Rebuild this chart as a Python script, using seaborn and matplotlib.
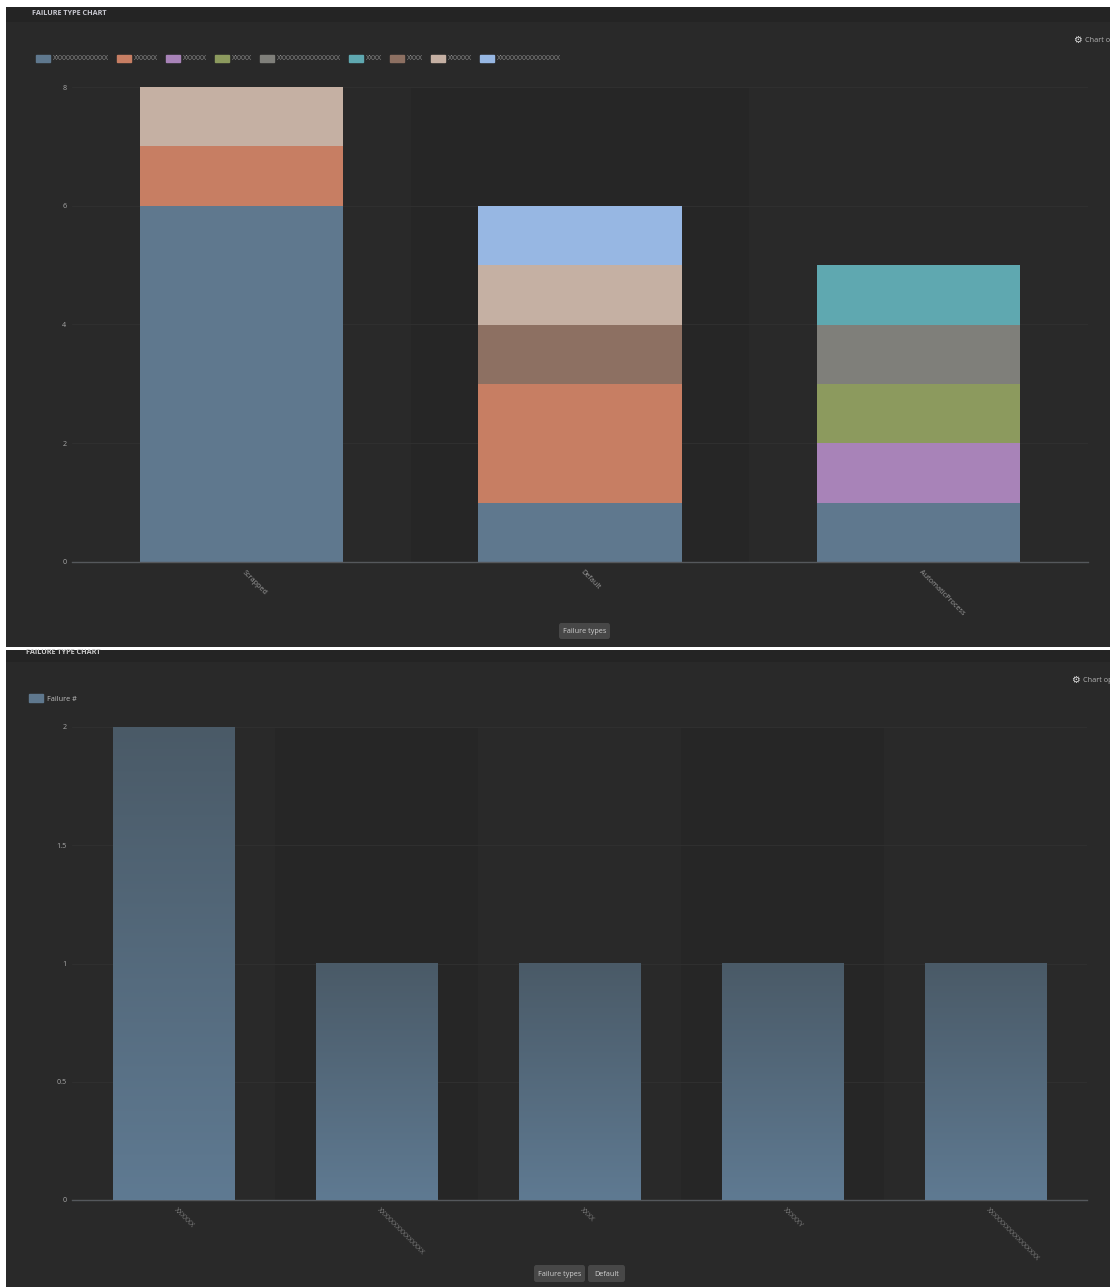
import numpy as np
import matplotlib
matplotlib.use("Agg")
import matplotlib.pyplot as plt
from matplotlib.patches import Rectangle, FancyBboxPatch, Patch
from matplotlib.transforms import ScaledTranslation
import matplotlib.colors as mcolors
import seaborn as sns

# ---- data ----
top_categories = ["Scrapped", "Default", "AutomaticProcess"]
top_series_names = ["XXXXXXXXXXXXXX", "XXXXXX", "XXXXXX", "XXXXX", "XXXXXXXXXXXXXXXX",
                    "XXXX", "XXXX", "XXXXXX", "XXXXXXXXXXXXXXXX"]
top_series_values = [
    [6, 1, 1],
    [1, 2, 0],
    [0, 0, 1],
    [0, 0, 1],
    [0, 0, 1],
    [0, 0, 1],
    [0, 1, 0],
    [1, 1, 0],
    [0, 1, 0],
]
top_colors = ["#5f788e", "#c77e63", "#a883b8", "#8c9a5e", "#7f7f7a",
              "#5fa8b0", "#8d7062", "#c5b0a3", "#97b7e3"]
top_yticks = [0, 2, 4, 6, 8]

bottom_categories = ["XXXXXX", "XXXXXXXXXXXXXXX", "XXXX", "XXXXXY", "XXXXXXXXXXXXXXXXX"]
bottom_values = [2, 1, 1, 1, 1]
bottom_yticks = [0, 0.5, 1, 1.5, 2]
bottom_yticklabels = ["0", "0.5", "1", "1.5", "2"]
bottom_legend = "Failure #"

W, H = 1110, 1287
PANEL = "#292929"
HEADER = "#242424"
BAND = "#262626"
GRID = "#303030"
AXIS = "#55585c"
TXT = "#a8a8a8"

sns.set_theme(style="dark")
plt.rcParams["font.family"] = ["Open Sans", "DejaVu Sans"]

fig = plt.figure(figsize=(W / 100, H / 100), dpi=100, facecolor="white")


def px_rect(x0, y0, x1, y1, color, z=-2):
    fig.add_artist(Rectangle((x0 / W, 1 - y1 / H), (x1 - x0) / W, (y1 - y0) / H,
                             transform=fig.transFigure, facecolor=color,
                             edgecolor="none", zorder=z))


def ftext(x, y, s, **kw):
    kw.setdefault("color", TXT)
    kw.setdefault("fontsize", 5.2)
    kw.setdefault("va", "center")
    fig.text(x / W, 1 - y / H, s, **kw)


def pill(x0, x1, y0, y1, s):
    fig.add_artist(FancyBboxPatch((x0 / W, 1 - y1 / H), (x1 - x0) / W, (y1 - y0) / H,
                                  boxstyle="round,pad=0,rounding_size=0.002",
                                  transform=fig.transFigure, facecolor="#474747",
                                  edgecolor="none"))
    ftext((x0 + x1) / 2, (y0 + y1) / 2 + 1, s, ha="center", color="#cfcfcf")


def swatch(c):
    return Patch(facecolor=c, edgecolor=c, linewidth=1.0, joinstyle="round")


def make_axes(x0, y0, x1, y1):
    ax = fig.add_axes([x0 / W, 1 - y1 / H, (x1 - x0) / W, (y1 - y0) / H])
    ax.set_facecolor(PANEL)
    return ax


def style_axes(ax, cats, yticks, yticklabels, ymax, rotation, xcolor):
    n = len(cats)
    ax.set_xlim(-0.5, n - 0.5)
    ax.set_ylim(0, ymax)
    for i in range(1, n, 2):
        ax.axvspan(i - 0.5, i + 0.5, facecolor=BAND, zorder=0, lw=0)
    ax.set_yticks(yticks)
    ax.set_yticklabels(yticklabels)
    ax.yaxis.grid(True, color=GRID, lw=0.7, zorder=0.5)
    ax.xaxis.grid(False)
    ax.set_axisbelow(True)
    for s in ["top", "right", "left"]:
        ax.spines[s].set_visible(False)
    ax.spines["bottom"].set_color(AXIS)
    ax.spines["bottom"].set_linewidth(1)
    ax.set_xlabel("")
    ax.set_ylabel("")
    ax.set_xticks(range(n))
    ax.set_xticklabels(cats, rotation=rotation, ha="left", va="top",
                       rotation_mode="anchor", fontsize=5.2, color=xcolor)
    ax.tick_params(axis="x", length=0, pad=5)
    ax.tick_params(axis="y", length=0, pad=4, labelsize=5.2, labelcolor=TXT)
    shift = ScaledTranslation(3 / 72, 0, fig.dpi_scale_trans)
    for lab in ax.get_xticklabels():
        lab.set_transform(lab.get_transform() + shift)


# ---- panels ----
px_rect(6, 7, W, 647, PANEL)
px_rect(6, 7, W, 22, HEADER, z=-1)
px_rect(6, 650, W, H, PANEL)
px_rect(6, 650, W, 662, HEADER, z=-1)
ftext(32, 13.5, "FAILURE TYPE CHART", fontweight="bold", color="#c8c8d0")
ftext(26, 653, "FAILURE TYPE CHART", fontweight="bold", color="#c8c8c8")

# ---- top chart ----
ax1 = make_axes(72, 87, 1088, 562)
base = np.zeros(len(top_categories))
for name, vals, col in zip(top_series_names, top_series_values, top_colors):
    sns.barplot(x=top_categories, y=vals, bottom=base, color=col, saturation=1,
                width=0.6, errorbar=None, ax=ax1, zorder=2, linewidth=0)
    base = base + np.array(vals)
style_axes(ax1, top_categories, top_yticks, [str(t) for t in top_yticks], max(base), -45, "#9a9a9a")

leg1 = fig.legend([swatch(c) for c in top_colors], top_series_names, loc="center left",
                  bbox_to_anchor=(36 / W, 1 - 58.5 / H), ncol=9, frameon=False,
                  fontsize=5, labelcolor="#8e8e8e", handlelength=2.0, handleheight=1.2,
                  handletextpad=0.5, columnspacing=1.1, borderpad=0, borderaxespad=0)
ftext(1073, 40, "\u2699", color="#e0e0e0", fontsize=7, family="DejaVu Sans")
ftext(1085, 40.5, "Chart o", color="#b5b5b5")
pill(559, 610, 623, 639, "Failure types")

# ---- bottom chart ----
ax2 = make_axes(72, 727, 1087, 1200)
sns.barplot(x=bottom_categories, y=bottom_values, color="#5f788e", saturation=1,
            width=0.6, errorbar=None, ax=ax2, zorder=2, linewidth=0)
bar_patches = list(ax2.patches)
style_axes(ax2, bottom_categories, bottom_yticks, bottom_yticklabels, max(bottom_values), -45, "#7c7c7c")

cmap = mcolors.LinearSegmentedColormap.from_list("barfade", ["#4a5a67", "#5f7a92"])
grad = np.linspace(0, 1, 256).reshape(-1, 1)
for patch in bar_patches:
    x0, y0 = patch.get_x(), patch.get_y()
    im = ax2.imshow(grad, cmap=cmap, aspect="auto", zorder=3, interpolation="bilinear",
                    extent=[x0, x0 + patch.get_width(), y0, y0 + patch.get_height()])
    im.set_clip_path(patch)
ax2.set_xlim(-0.5, len(bottom_categories) - 0.5)
ax2.set_ylim(0, max(bottom_values))

leg2 = fig.legend([swatch("#5f788e")], [bottom_legend],
                  loc="center left", bbox_to_anchor=(29 / W, 1 - 698.5 / H), frameon=False,
                  fontsize=5.2, labelcolor="#c0c0c0", handlelength=2.0, handleheight=1.2,
                  handletextpad=0.5, borderpad=0, borderaxespad=0)
ftext(1071, 680, "\u2699", color="#e0e0e0", fontsize=7, family="DejaVu Sans")
ftext(1083, 680.5, "Chart op", color="#b5b5b5")
pill(534, 585, 1265, 1282, "Failure types")
pill(588, 625, 1265, 1282, "Default")

fig.savefig("out.png", dpi=100, facecolor="white")
